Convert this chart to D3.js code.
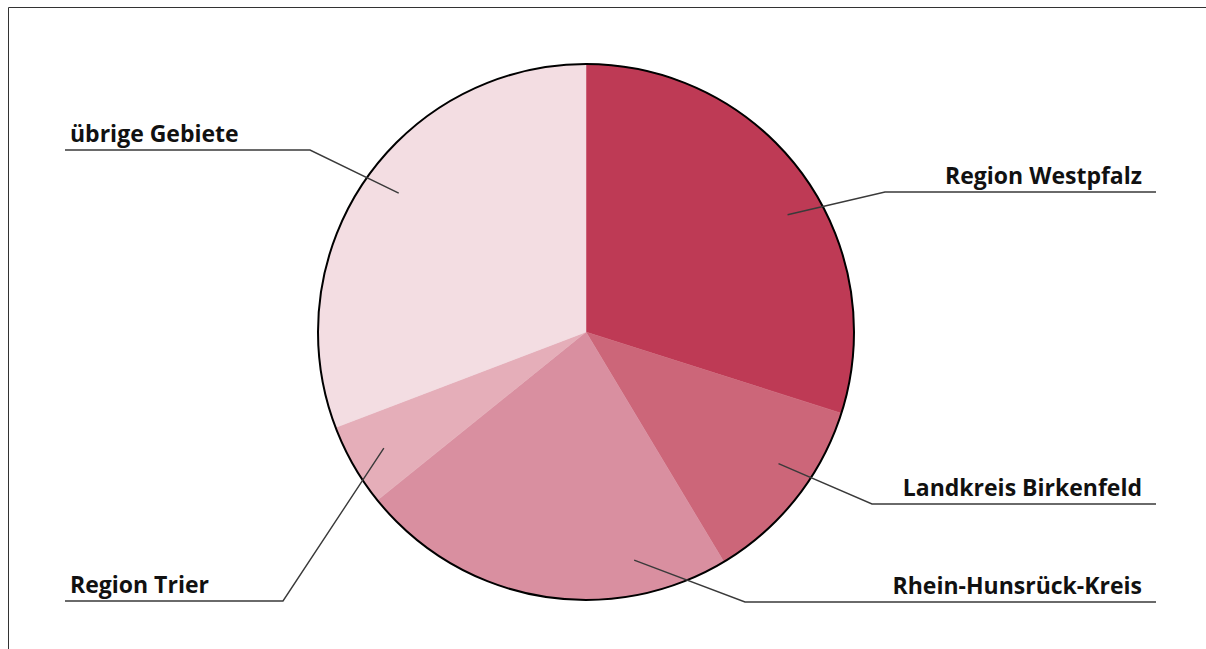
<!DOCTYPE html>
<html>
<head>
<meta charset="utf-8">
<script src="https://cdn.jsdelivr.net/npm/d3@7"></script>
<style>
  body { margin: 0; background: #fff; }
  .label { font-family: "Open Sans", sans-serif; font-weight: 700; font-size: 23px; fill: #111; }
</style>
</head>
<body>
<div id="chart"></div>
<script>
// data (share in %)
var regions = ["Region Westpfalz", "Landkreis Birkenfeld", "Rhein-Hunsrück-Kreis", "Region Trier", "übrige Gebiete"];
var shares = [29.9, 11.5, 22.8, 5.0, 30.8];
var colors = ["#be3a55", "#cc6679", "#d98fa0", "#e5aeb9", "#f3dde2"];

// label layout (side, underline y, underline inner x, leader angle nudge in degrees)
var labelSide = ["right", "right", "right", "left", "left"];
var labelY = [192, 504, 602, 601, 150];
var lineInner = [885, 872, 745, 283, 310];
var angleNudge = [6, -4, -22, 0, 2];

var width = 1206, height = 649;
var cx = 586, cy = 332, radius = 268;

var svg = d3.select("#chart").append("svg")
  .attr("width", width)
  .attr("height", height);

// frame
svg.append("path")
  .attr("d", "M8.5," + height + "V7.5H" + width)
  .attr("fill", "none")
  .attr("stroke", "#333")
  .attr("stroke-width", 1);

var data = regions.map(function (r, i) { return { name: r, value: shares[i], i: i }; });

var pie = d3.pie().sort(null).value(function (d) { return d.value; });
var arcs = pie(data);

var arc = d3.arc().innerRadius(0).outerRadius(radius);

var g = svg.append("g").attr("transform", "translate(" + cx + "," + cy + ")");

g.selectAll("path.slice")
  .data(arcs)
  .enter()
  .append("path")
  .attr("class", "slice")
  .attr("d", arc)
  .attr("fill", function (d) { return colors[d.data.i]; })
  .attr("stroke", function (d) { return colors[d.data.i]; })
  .attr("stroke-width", 0.5);

// outer outline only
g.append("circle")
  .attr("r", radius)
  .attr("fill", "none")
  .attr("stroke", "#000")
  .attr("stroke-width", 2);

// leaders + labels
var leaderR = radius * 0.87;
arcs.forEach(function (d) {
  var i = d.data.i;
  var a = (d.startAngle + d.endAngle) / 2 + angleNudge[i] * Math.PI / 180;
  var px = cx + leaderR * Math.sin(a);
  var py = cy - leaderR * Math.cos(a);
  var outer = labelSide[i] == "right" ? 1156 : 65;

  svg.append("path")
    .attr("d", "M" + px + "," + py + "L" + lineInner[i] + "," + labelY[i] + "H" + outer)
    .attr("fill", "none")
    .attr("stroke", "#3a3a3a")
    .attr("stroke-width", 1.4);

  svg.append("text")
    .attr("class", "label")
    .attr("x", labelSide[i] == "right" ? 1142 : 70)
    .attr("y", labelY[i] - 8)
    .attr("text-anchor", labelSide[i] == "right" ? "end" : "start")
    .text(d.data.name);
});
</script>
</body>
</html>
